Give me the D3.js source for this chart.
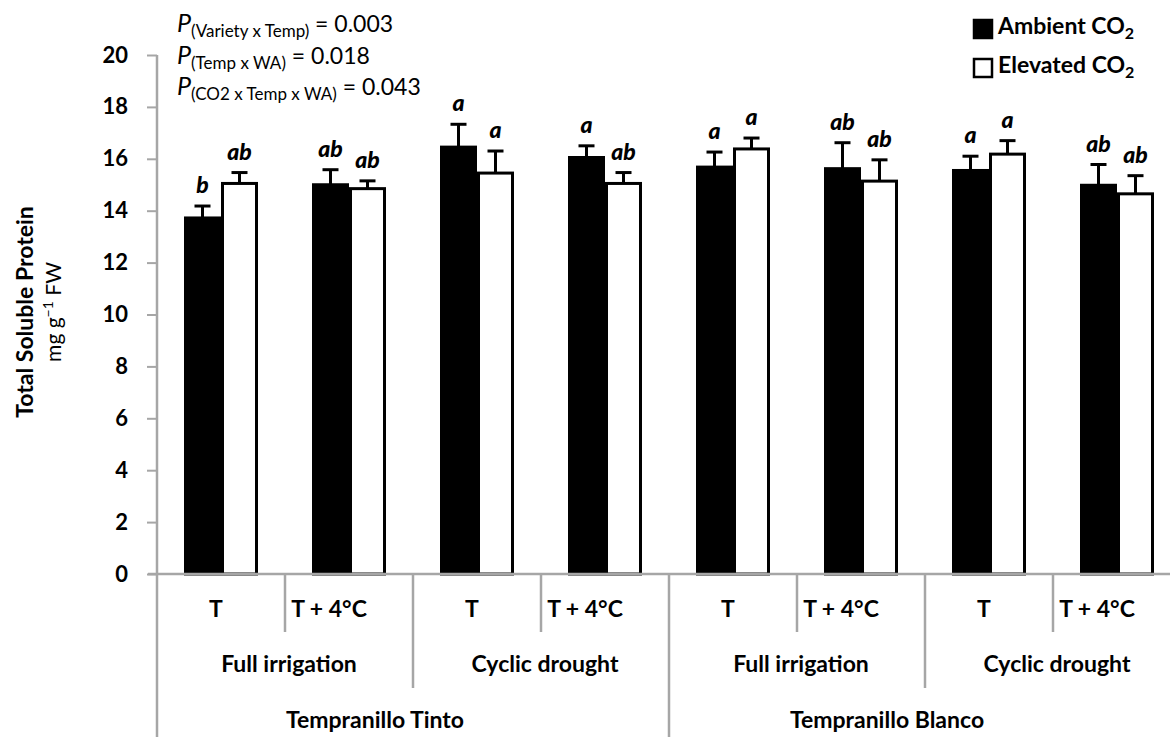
<!DOCTYPE html>
<html>
<head>
<meta charset="utf-8">
<script src="https://cdn.jsdelivr.net/npm/d3@7"></script>
<style>
  html, body { margin: 0; padding: 0; background: #fff; }
  svg { display: block; font-family: Lato, "Open Sans", sans-serif; }
</style>
</head>
<body>
<svg id="chart" width="1170" height="737"></svg>
<script>
// ---- data ----
const varieties = ["Tempranillo Tinto", "Tempranillo Blanco"];
const watering = ["Full irrigation", "Cyclic drought"];
const temps = ["T", "T + 4°C"];

const ambient     = [13.72, 15.00, 16.45, 16.05, 15.68, 15.62, 15.55, 14.98];
const ambientErr  = [0.46, 0.58, 0.88, 0.45, 0.58, 1.00, 0.55, 0.80];
const ambientSig  = ["b", "ab", "a", "a", "a", "ab", "a", "ab"];
const elevated    = [15.05, 14.85, 15.45, 15.05, 16.38, 15.14, 16.18, 14.65];
const elevatedErr = [0.42, 0.30, 0.85, 0.42, 0.42, 0.82, 0.52, 0.70];
const elevatedSig = ["ab", "ab", "a", "ab", "a", "ab", "a", "ab"];

const yTicks = [0, 2, 4, 6, 8, 10, 12, 14, 16, 18, 20];
const pValues = [
  ["(Variety x Temp)", " = 0.003"],
  ["(Temp x WA)", " = 0.018"],
  ["(CO2 x Temp x WA)", " = 0.043"]
];

// build category rows (variety / watering / temp)
const cats = [];
varieties.forEach(v => watering.forEach(w => temps.forEach(t => cats.push({v, w, t}))));
const rows = cats.map((c, i) => ({
  i, ...c,
  amb: ambient[i], ambE: ambientErr[i], ambS: ambientSig[i],
  ele: elevated[i], eleE: elevatedErr[i], eleS: elevatedSig[i]
}));

const svg = d3.select("#chart");
const grey = "#a6a6a6";

const x = d3.scaleBand().domain(d3.range(cats.length)).range([157, 1181]).padding(0);
const y = d3.scaleLinear().domain([0, 20]).range([574, 55]);
const barW = 37;

// bars
const g = svg.append("g");
const grp = g.selectAll("g.grp").data(rows).join("g")
  .attr("transform", d => `translate(${x(d.i) + x.bandwidth() / 2},0)`);

const series = [
  {key: "amb", e: "ambE", s: "ambS", fill: "#000", off: -barW},
  {key: "ele", e: "eleE", s: "eleS", fill: "#fff", off: 0}
];

series.forEach(s => {
  // error bars (upper only)
  grp.append("line")
    .attr("x1", s.off + barW / 2).attr("x2", s.off + barW / 2)
    .attr("y1", d => y(d[s.key])).attr("y2", d => y(d[s.key] + d[s.e]))
    .attr("stroke", "#000").attr("stroke-width", 3);
  grp.append("line")
    .attr("x1", s.off + barW / 2 - 8).attr("x2", s.off + barW / 2 + 8)
    .attr("y1", d => y(d[s.key] + d[s.e])).attr("y2", d => y(d[s.key] + d[s.e]))
    .attr("stroke", "#000").attr("stroke-width", 3);
  grp.append("rect")
    .attr("x", s.off + 1.5).attr("width", barW - 3)
    .attr("y", d => y(d[s.key])).attr("height", d => y(0) - y(d[s.key]))
    .attr("fill", s.fill).attr("stroke", "#000").attr("stroke-width", 3);
  grp.append("text")
    .attr("x", s.off + barW / 2)
    .attr("y", d => y(d[s.key] + d[s.e]) - 13)
    .attr("text-anchor", "middle")
    .attr("font-size", 23).attr("font-weight", 900).attr("font-style", "italic")
    .text(d => d[s.s]);
});

// y axis
const yAxis = svg.append("g").attr("transform", "translate(157,0)")
  .call(d3.axisLeft(y).tickValues(yTicks).tickSize(10).tickPadding(19));
yAxis.select(".domain").remove();
yAxis.selectAll(".tick line").attr("stroke", grey).attr("stroke-width", 2);
yAxis.selectAll(".tick text")
  .attr("font-size", 22).attr("font-weight", "bold")
  .attr("font-family", "Lato, sans-serif").attr("fill", "#000");

svg.append("line").attr("x1", 157).attr("x2", 157).attr("y1", y(20)).attr("y2", 737)
  .attr("stroke", grey).attr("stroke-width", 2.5);
svg.append("line").attr("x1", 148).attr("x2", 1170).attr("y1", y(0)).attr("y2", y(0))
  .attr("stroke", grey).attr("stroke-width", 2.5);

// category dividers
const bottom = y(0);
d3.range(1, cats.length).forEach(i => {
  const len = i % 4 === 0 ? 737 - bottom : (i % 2 === 0 ? 114 : 58);
  svg.append("line").attr("x1", x(i)).attr("x2", x(i))
    .attr("y1", bottom).attr("y2", bottom + len)
    .attr("stroke", grey).attr("stroke-width", 2.5);
});

// category labels
const lab = svg.append("g").attr("font-weight", "bold").attr("font-size", 23)
  .attr("text-anchor", "middle").attr("fill", "#000");
rows.forEach(d => {
  lab.append("text")
    .attr("x", x(d.i) + x.bandwidth() / 2 + (d.t === "T" ? -5 : -20))
    .attr("y", 617).text(d.t);
});
d3.range(0, cats.length, 2).forEach(i => {
  lab.append("text").attr("x", x(i) + x.bandwidth() + 4).attr("y", 672).text(cats[i].w);
});
d3.range(0, cats.length, 4).forEach(i => {
  lab.append("text").attr("x", x(i) + 2 * x.bandwidth() - 38).attr("y", 728).text(cats[i].v);
});

// y axis title
svg.append("text")
  .attr("transform", "translate(33,312) rotate(-90)")
  .attr("text-anchor", "middle").attr("font-size", 23).attr("font-weight", "bold")
  .text("Total Soluble Protein");
const unit = svg.append("text")
  .attr("transform", "translate(61,312) rotate(-90)")
  .attr("text-anchor", "middle").attr("font-size", 21);
unit.append("tspan").text("mg g");
unit.append("tspan").attr("dy", -8).attr("font-size", 14).text("−1");
unit.append("tspan").attr("dy", 8).text(" FW");

// P values
pValues.forEach((p, i) => {
  const t = svg.append("text").attr("x", 177).attr("y", 32 + i * 31.5).attr("font-size", 23)
    .attr("font-family", "Lato, sans-serif");
  t.append("tspan").attr("font-style", "italic").attr("font-size", 25).text("P");
  t.append("tspan").attr("dy", 5).attr("font-size", 17).text(p[0]);
  t.append("tspan").attr("dy", -5).text(p[1]);
});

// legend
const legend = [["Ambient CO", "#000"], ["Elevated CO", "#fff"]];
legend.forEach((l, i) => {
  const ly = 20 + i * 39;
  svg.append("rect").attr("x", 974).attr("y", ly).attr("width", 18).attr("height", 18)
    .attr("fill", l[1]).attr("stroke", "#000").attr("stroke-width", 2.5);
  const t = svg.append("text").attr("x", 998).attr("y", ly + 14)
    .attr("font-size", 23).attr("font-weight", "bold");
  t.append("tspan").text(l[0]);
  t.append("tspan").attr("dy", 5).attr("font-size", 16).text("2");
});
</script>
</body>
</html>
